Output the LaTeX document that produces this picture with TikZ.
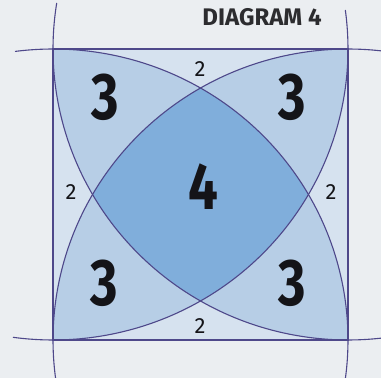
\documentclass[tikz,border=0pt]{standalone}
\usepackage{fontspec}
\setmainfont{Fira Sans}
\usepackage{tikz}

\definecolor{bgc}{RGB}{235,238,241}
\definecolor{twoc}{RGB}{214,226,239}
\definecolor{threec}{RGB}{183,206,230}
\definecolor{fourc}{RGB}{128,174,219}
\definecolor{linec}{RGB}{78,72,138}
\definecolor{digitc}{RGB}{20,20,24}

\newcommand{\slim}[1]{\scalebox{0.8}[1]{#1}}

\begin{document}
\begin{tikzpicture}[
    x=1pt, y=1pt,
    edge/.style={draw=linec, line width=1.1pt},
    big/.style={inner sep=0pt, text=digitc, font=\fontsize{66}{66}\selectfont\bfseries},
    small/.style={inner sep=0pt, text=digitc, font=\fontsize{22}{22}\selectfont},
    heading/.style={inner sep=0pt, text=digitc!90, font=\fontsize{24}{24}\selectfont\bfseries}
]

% 画布
\useasboundingbox[fill=bgc] (0,0) rectangle (381,378);
\clip (0,0) rectangle (381,378);

% 四个角
\coordinate (bl) at (53,38);
\coordinate (br) at (348,38);
\coordinate (tl) at (53,329);
\coordinate (tr) at (348,329);

% 正方形内部
\begin{scope}
\clip (bl) rectangle (tr);
\fill[twoc] (bl) rectangle (tr);
% 三重区域
\foreach \a/\b/\c in {tl/tr/bl, tl/tr/br, tl/bl/br, tr/bl/br} {
  \begin{scope}
  \clip (\a) ellipse [x radius=295, y radius=291];
  \clip (\b) ellipse [x radius=295, y radius=291];
  \fill[threec] (\c) ellipse [x radius=295, y radius=291];
  \end{scope}
}
% 四重区域
\begin{scope}
\clip (tl) ellipse [x radius=295, y radius=291];
\clip (tr) ellipse [x radius=295, y radius=291];
\clip (bl) ellipse [x radius=295, y radius=291];
\fill[fourc] (br) ellipse [x radius=295, y radius=291];
\end{scope}
\end{scope}

% 正方形
\draw[edge] (bl) rectangle (tr);

% 圆弧
\draw[edge] ([shift={(170.9:295 and 291)}]tr) arc[start angle=170.9, end angle=276.4, x radius=295, y radius=291];
\draw[edge] ([shift={(-7.6:295 and 291)}]bl) arc[start angle=-7.6, end angle=97.4, x radius=295, y radius=291];
\draw[edge] ([shift={(-97.8:295 and 291)}]tl) arc[start angle=-97.8, end angle=7.7, x radius=295, y radius=291];
\draw[edge] ([shift={(83.6:295 and 291)}]br) arc[start angle=83.6, end angle=187.6, x radius=295, y radius=291];

% 数字
\node[big] (threetl) at (105,281) {\slim{3}};
\node[big] (threetr) at (292,281) {\slim{3}};
\node[big] (threebl) at (104,95) {\slim{3}};
\node[big] (threebr) at (292,95) {\slim{3}};
\node[big] (four) at (203,191) {\slim{4}};
\node[small] (twotop) at (200,309) {2};
\node[small] (twobot) at (200,52) {2};
\node[small] (twoleft) at (71,186) {2};
\node[small] (tworight) at (331,186) {2};

% 标题
\node[heading] (title) at (262,361) {DIAGRAM 4};

\end{tikzpicture}
\end{document}
